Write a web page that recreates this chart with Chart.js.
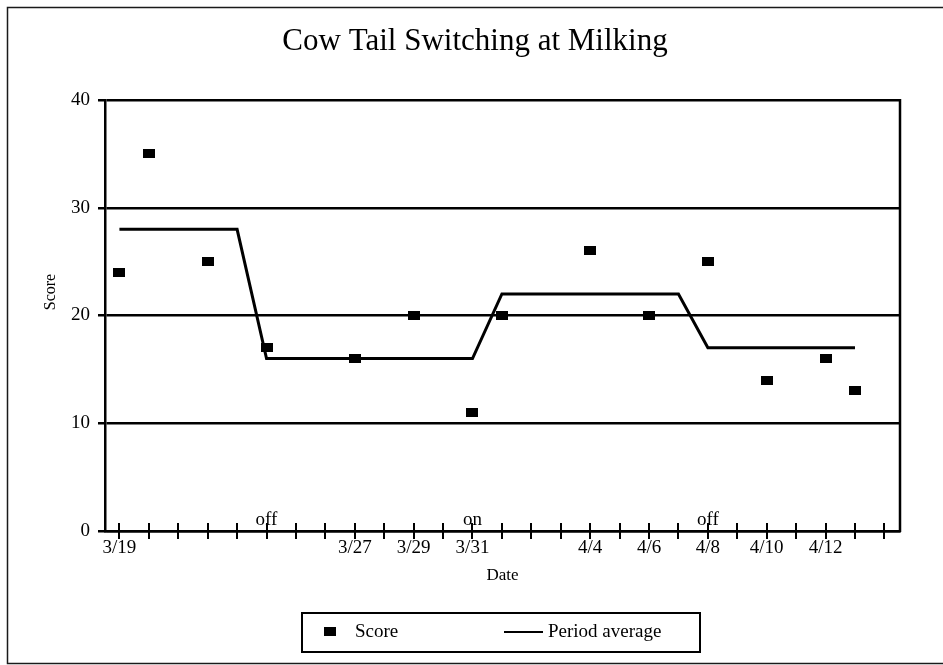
<!DOCTYPE html>
<html>
<head>
<meta charset="utf-8">
<title>Cow Tail Switching at Milking</title>
<script src="https://cdn.jsdelivr.net/npm/chart.js@4/dist/chart.umd.min.js"></script>
<style>
  html, body { margin: 0; padding: 0; background: #fff; }
  canvas { display: block; }
</style>
</head>
<body>
<canvas id="chart" width="943" height="665"></canvas>
<script>
// Calendar days along the x axis (one tick per day)
const days = ['3/19','3/20','3/21','3/22','3/23','3/24','3/25','3/26','3/27','3/28','3/29','3/30','3/31',
              '4/1','4/2','4/3','4/4','4/5','4/6','4/7','4/8','4/9','4/10','4/11','4/12','4/13','4/14'];
// Days that carry a printed label
const tickLabels = ['3/19','3/27','3/29','3/31','4/4','4/6','4/8','4/10','4/12'];

// Daily tail-switching scores
const scoreDates = ['3/19','3/20','3/22','3/24','3/27','3/29','3/31','4/1','4/4','4/6','4/8','4/10','4/12','4/13'];
const scores     = [24, 35, 25, 17, 16, 20, 11, 20, 26, 20, 25, 14, 16, 13];

// Mean score of each treatment period (start and end of each period)
const avgDates  = ['3/19','3/23','3/24','3/31','4/1','4/7','4/8','4/13'];
const avgValues = [28, 28, 16, 16, 22, 22, 17, 17];

// Treatment switch markers
const switchDates  = ['3/24','3/31','4/8'];
const switchLabels = ['off','on','off'];

const yTicks = [0, 10, 20, 30, 40];

const SERIF = "'Liberation Serif', 'Times New Roman', serif";
Chart.defaults.font.family = SERIF;
Chart.defaults.color = '#000';

// Small filled rectangle used as the score marker
const marker = document.createElement('canvas');
marker.width = 12; marker.height = 9;
(function () {
  const m = marker.getContext('2d');
  m.fillStyle = '#000';
  m.fillRect(0, 0, 12, 9);
})();

const dayIndex = d => days.indexOf(d);

const decor = {
  id: 'decor',
  afterDraw(chart) {
    const { ctx, chartArea: a, scales: { x } } = chart;
    ctx.save();

    // outer page frame
    ctx.strokeStyle = '#1a1a1a';
    ctx.lineWidth = 1.5;
    ctx.strokeRect(7.5, 7.5, 980, 656);

    // right edge of the plot frame
    ctx.strokeStyle = '#000';
    ctx.lineWidth = 2.5;
    ctx.beginPath();
    ctx.moveTo(a.right, a.top - 1);
    ctx.lineTo(a.right, a.bottom + 1);
    ctx.stroke();

    // day tick marks crossing the date axis
    ctx.lineWidth = 2;
    ctx.beginPath();
    days.forEach((d, i) => {
      const px = Math.round(x.getPixelForValue(i));
      ctx.moveTo(px, a.bottom - 8);
      ctx.lineTo(px, a.bottom + 8);
    });
    ctx.stroke();

    // on / off switch labels
    ctx.fillStyle = '#000';
    ctx.font = '19px ' + SERIF;
    ctx.textAlign = 'center';
    ctx.textBaseline = 'alphabetic';
    switchDates.forEach((d, k) => {
      ctx.fillText(switchLabels[k], x.getPixelForValue(dayIndex(d)), a.bottom - 6);
    });

    // chart title
    ctx.font = '31px ' + SERIF;
    ctx.textBaseline = 'middle';
    ctx.fillText('Cow Tail Switching at Milking', 475, 42);

    // y axis title
    ctx.save();
    ctx.translate(51, 292);
    ctx.rotate(-Math.PI / 2);
    ctx.font = '16px ' + SERIF;
    ctx.fillText('Score', 0, 0);
    ctx.restore();

    // legend box
    const ds = chart.data.datasets;
    ctx.lineWidth = 2;
    ctx.strokeRect(302, 613, 398, 39);
    const ly = 632;
    ctx.drawImage(marker, 324, ly - 5);
    ctx.font = '19px ' + SERIF;
    ctx.textAlign = 'left';
    ctx.fillText(ds[1].label, 355, ly);
    ctx.lineWidth = 2;
    ctx.beginPath();
    ctx.moveTo(504, ly);
    ctx.lineTo(543, ly);
    ctx.stroke();
    ctx.fillText(ds[0].label, 548, ly);

    ctx.restore();
  }
};

new Chart(document.getElementById('chart'), {
  type: 'scatter',
  data: {
    datasets: [
      {
        label: 'Period average',
        data: avgDates.map((d, i) => ({ x: dayIndex(d), y: avgValues[i] })),
        showLine: true,
        borderColor: '#000',
        borderWidth: 3,
        pointRadius: 0,
        tension: 0,
        order: 2
      },
      {
        label: 'Score',
        data: scoreDates.map((d, i) => ({ x: dayIndex(d), y: scores[i] })),
        pointStyle: marker,
        pointRadius: 6,
        backgroundColor: '#000',
        borderColor: '#000',
        order: 1
      }
    ]
  },
  options: {
    responsive: false,
    animation: false,
    layout: { padding: { left: 0, right: 43, top: 100, bottom: 0 } },
    plugins: {
      legend: { display: false },
      title: { display: false },
      tooltip: { enabled: false }
    },
    scales: {
      x: {
        type: 'linear',
        min: -0.49,
        max: 26.53,
        afterBuildTicks: s => { s.ticks = days.map((_, i) => ({ value: i })); },
        afterFit: s => { s.height = 134; },
        grid: { display: false, drawTicks: false },
        border: { display: true, color: '#000', width: 2.5 },
        ticks: {
          autoSkip: false,
          maxRotation: 0,
          padding: 6,
          font: { size: 19 },
          color: '#000',
          callback: v => (tickLabels.includes(days[v]) ? days[v] : '')
        },
        title: {
          display: true,
          text: 'Date',
          font: { size: 17 },
          color: '#000',
          padding: { top: 0, bottom: 79 }
        }
      },
      y: {
        min: 0,
        max: 40,
        afterBuildTicks: s => { s.ticks = yTicks.map(v => ({ value: v })); },
        afterFit: s => { s.width = 105; },
        grid: { color: '#000', lineWidth: 2.5, drawTicks: true, tickLength: 7 },
        border: { display: true, color: '#000', width: 2.5 },
        ticks: { padding: 8, font: { size: 19 }, color: '#000' }
      }
    }
  },
  plugins: [decor]
});
</script>
</body>
</html>
